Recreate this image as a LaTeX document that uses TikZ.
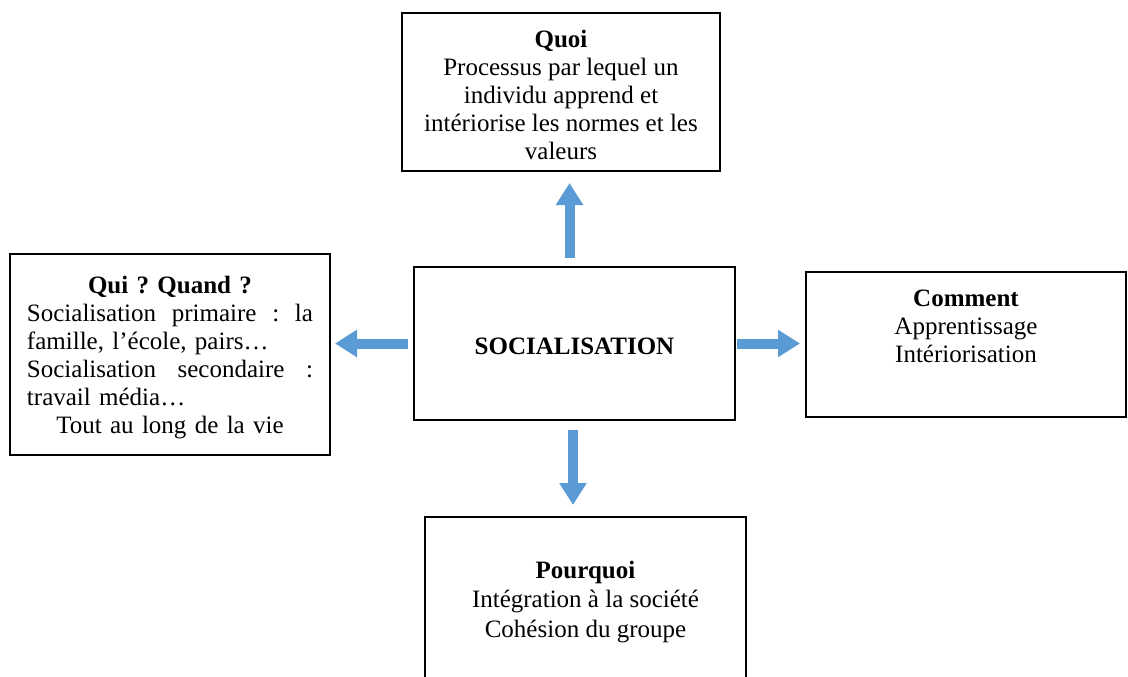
\documentclass[tikz,border=0pt]{standalone}
\usepackage{fontspec}
\setmainfont{Liberation Serif}
\usetikzlibrary{arrows.meta}
\definecolor{arrowblue}{HTML}{5B9BD5}
\frenchspacing
\begin{document}
\begin{tikzpicture}[x=1pt,y=-1pt,
  box/.style={draw=black, line width=1.6pt, inner sep=0pt, outer sep=0pt},
  txt/.style={font=\fontsize{25}{28}\selectfont, align=center, inner sep=0pt},
  arr/.style={draw=arrowblue, line width=10pt, -{Triangle[width=26pt,length=22pt]}}]
\useasboundingbox (0,0) rectangle (1128,677);
\clip (0,0) rectangle (1128,677);
\fill[white] (0,0) rectangle (1128,677);
% boxes
\node[box, minimum width=318pt, minimum height=158pt] (quoi) at (561,92) {};
\node[box, minimum width=320pt, minimum height=201pt] (qui) at (170,354.5) {};
\node[box, minimum width=321pt, minimum height=153pt] (soc) at (574.5,343.5) {};
\node[box, minimum width=320pt, minimum height=145pt] (comment) at (966,344.5) {};
\node[box, minimum width=321pt, minimum height=180pt] (pourquoi) at (585.5,607) {};
% texts
\node[txt] (quoit) at (561,95) {\textbf{Quoi}\\Processus par lequel un\\individu apprend et\\intériorise les normes et les\\valeurs};
\node[txt] (soct) at (574.5,346) {\textbf{SOCIALISATION}};
\node[txt] (commentt) at (966,326) {\textbf{Comment}\\Apprentissage\\Intériorisation};
\node[txt, font=\fontsize{25}{29.5}\selectfont] (pourquoit) at (585.5,602) {\textbf{Pourquoi}\\Intégration à la société\\Cohésion du groupe};
\node[txt, text width=286pt] (quit) at (170,358) {\makebox[286pt]{\textbf{Qui ? Quand ?}}\\
\makebox[286pt]{Socialisation\hfill primaire\hfill :\hfill la}\\
\makebox[286pt]{famille, l’école, pairs…\hfill}\\
\makebox[286pt]{Socialisation\hfill secondaire\hfill :}\\
\makebox[286pt]{travail média…\hfill}\\
\makebox[286pt]{Tout au long de la vie}};
% arrows
\draw[arr, shorten <=9pt, shorten >=12pt] ([xshift=-5pt]soc.north) -- ([xshift=-5pt]soc.north |- quoi.south);
\draw[arr, shorten <=6pt, shorten >=5pt] (soc.west) -- (soc.west -| qui.east);
\draw[arr, shorten <=2pt, shorten >=6pt] (soc.east) -- (soc.east -| comment.west);
\draw[arr, shorten <=10pt, shorten >=12pt] ([xshift=-1.5pt]soc.south) -- ([xshift=-1.5pt]soc.south |- pourquoi.north);
\end{tikzpicture}
\end{document}
